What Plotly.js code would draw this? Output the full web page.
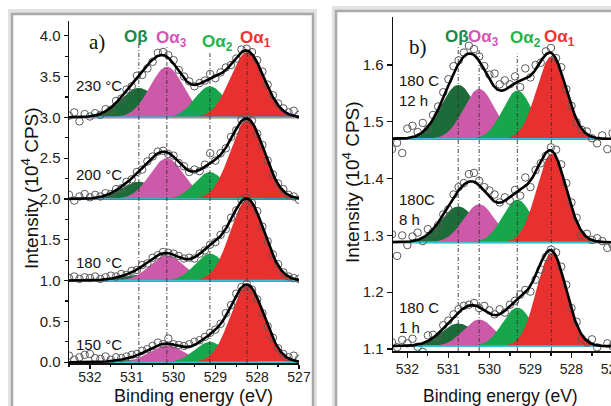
<!DOCTYPE html>
<html><head><meta charset="utf-8">
<script src="https://cdn.plot.ly/plotly-3.0.1.min.js"></script>
<style>html,body{margin:0;padding:0;overflow:hidden;background:#fff}#chart{width:630px;height:406px}</style>
</head><body><div id="chart"></div>
<script>
// ---------------- data ----------------
const energy = [532.5, 532.375, 532.25, 532.125, 532.0, 531.875, 531.75, 531.625, 531.5, 531.375, 531.25, 531.125, 531.0, 530.875, 530.75, 530.625, 530.5, 530.375, 530.25, 530.125, 530.0, 529.875, 529.75, 529.625, 529.5, 529.375, 529.25, 529.125, 529.0, 528.875, 528.75, 528.625, 528.5, 528.375, 528.25, 528.125, 528.0, 527.875, 527.75, 527.625, 527.5, 527.375, 527.25, 527.125, 527.0];

// panel a) measured points (10^4 CPS, stacked)
const pts230 = [3.02, 3.06, 2.95, 3.04, 3.01, 3.05, 3.03, 3.10, 3.09, 3.20, 3.23, 3.34, 3.38, 3.51, 3.52, 3.60, 3.68, 3.79, 3.80, 3.76, 3.70, 3.58, 3.50, 3.44, 3.38, 3.42, 3.45, 3.53, 3.48, 3.55, 3.61, 3.64, 3.72, 3.83, 3.84, 3.80, 3.70, 3.56, 3.40, 3.27, 3.17, 3.11, 3.06, 3.08, 3.03];
const pts200 = [2.05, 1.98, 2.03, 2.06, 2.02, 2.05, 2.03, 2.07, 2.06, 2.12, 2.13, 2.21, 2.24, 2.33, 2.36, 2.46, 2.52, 2.58, 2.59, 2.55, 2.53, 2.44, 2.40, 2.33, 2.36, 2.34, 2.42, 2.56, 2.47, 2.56, 2.62, 2.76, 2.84, 2.97, 3.00, 2.96, 2.80, 2.66, 2.47, 2.30, 2.19, 2.12, 2.05, 2.03, 1.99];
const pts180 = [1.03, 1.05, 1.02, 1.04, 1.03, 1.05, 1.02, 1.04, 1.06, 1.05, 1.08, 1.07, 1.12, 1.13, 1.19, 1.21, 1.28, 1.31, 1.35, 1.34, 1.33, 1.30, 1.27, 1.28, 1.27, 1.33, 1.37, 1.44, 1.47, 1.56, 1.63, 1.77, 1.86, 1.99, 2.02, 1.95, 1.85, 1.66, 1.48, 1.32, 1.20, 1.10, 1.05, 1.03, 1.02];
const pts150 = [0.08, 0.03, 0.06, 0.09, 0.10, 0.05, 0.04, 0.07, 0.03, 0.06, 0.05, 0.07, 0.09, 0.10, 0.14, 0.16, 0.20, 0.24, 0.22, 0.29, 0.22, 0.21, 0.20, 0.22, 0.25, 0.27, 0.31, 0.36, 0.40, 0.47, 0.60, 0.70, 0.84, 0.92, 0.96, 0.89, 0.77, 0.60, 0.44, 0.30, 0.17, 0.10, 0.06, 0.08, 0.04];
const labelsA = ['230 °C', '200 °C', '180 °C', '150 °C'];
const baseA = [3.0, 2.0, 1.0, 0.0];
// fitted components: O-beta, O-alpha3, O-alpha2, O-alpha1
const peakNames = ['Oβ', 'Oα<sub>3</sub>', 'Oα<sub>2</sub>', 'Oα<sub>1</sub>'];
const centerA = [530.83, 530.16, 529.13, 528.24];
const fwhmA = [1.05, 0.95, 0.85, 0.95];
const hBetaA = [0.36, 0.21, 0.07, 0.04];
const hA3A = [0.62, 0.50, 0.31, 0.21];
const hA2A = [0.38, 0.33, 0.33, 0.25];
const hA1A = [0.80, 0.97, 0.99, 0.94];

// panel b)
const pts12h = [1.468, 1.452, 1.463, 1.445, 1.488, 1.493, 1.482, 1.498, 1.487, 1.512, 1.527, 1.552, 1.575, 1.598, 1.608, 1.622, 1.634, 1.628, 1.615, 1.598, 1.583, 1.585, 1.566, 1.573, 1.566, 1.580, 1.561, 1.594, 1.578, 1.600, 1.604, 1.624, 1.630, 1.612, 1.596, 1.557, 1.528, 1.499, 1.486, 1.483, 1.471, 1.462, 1.476, 1.452, 1.480];
const pts8h = [1.300, 1.302, 1.264, 1.300, 1.283, 1.298, 1.305, 1.290, 1.311, 1.306, 1.318, 1.337, 1.346, 1.372, 1.385, 1.392, 1.408, 1.410, 1.396, 1.385, 1.379, 1.372, 1.358, 1.367, 1.361, 1.380, 1.370, 1.402, 1.385, 1.415, 1.427, 1.440, 1.455, 1.451, 1.425, 1.392, 1.358, 1.331, 1.300, 1.303, 1.292, 1.295, 1.290, 1.278, 1.283];
const pts1h = [1.108, 1.112, 1.103, 1.116, 1.110, 1.118, 1.104, 1.095, 1.124, 1.125, 1.121, 1.142, 1.150, 1.161, 1.170, 1.176, 1.178, 1.181, 1.172, 1.176, 1.168, 1.161, 1.170, 1.164, 1.178, 1.185, 1.196, 1.204, 1.201, 1.222, 1.240, 1.262, 1.275, 1.270, 1.245, 1.213, 1.172, 1.148, 1.118, 1.111, 1.117, 1.103, 1.089, 1.110, 1.105];
const labelsB = ['180 C<br>12 h', '180C<br>8 h', '180 C<br>1 h'];
const baseB = [1.47, 1.288, 1.105];
const centerB = [530.76, 530.25, 529.32, 528.49];
const fwhmB = [1.0, 0.9, 0.85, 0.85];
const hBetaB = [0.095, 0.063, 0.040];
const hA3B = [0.088, 0.067, 0.047];
const hA2B = [0.085, 0.075, 0.068];
const hA1B = [0.145, 0.156, 0.164];

// ---------------- drawing ----------------
const W = 630, H = 406;
const px = x => x / W, py = y => 1 - y / H;
const FONT = 'Liberation Sans, Arial, sans-serif';
const fillCols = ['#1e6b3a', '#cd59a9', '#17a64b', '#e8302f'];
const labelCols = ['#178a48', '#d955b5', '#25b34b', '#ee3333'];
const lineShape = (e, c, w) => Math.pow(2, -Math.pow(2 * (e - c) / w, 2));
const fineE = [];
for (let i = 0; i <= 550; i++) fineE.push(+(532.5 - i * 0.01).toFixed(3));

const traces = [];
function panel(xa, ya, pts, bases, centers, fwhm, hs, guideBottom, guideTops) {
  const fits = [];
  bases.forEach((b, i) => {
    for (let j = 0; j < 4; j++) {
      traces.push({x: fineE, y: fineE.map(e => b + hs[j][i] * lineShape(e, centers[j], fwhm[j])),
        xaxis: xa, yaxis: ya, mode: 'lines', fill: 'toself', fillcolor: fillCols[j],
        line: {width: 0, color: fillCols[j]}, hoverinfo: 'skip'});
    }
    traces.push({x: [fineE[0], fineE[fineE.length - 1]], y: [b, b], xaxis: xa, yaxis: ya, mode: 'lines',
      line: {color: '#3dbbe0', width: 1.6}, hoverinfo: 'skip'});
    fits.push(fineE.map(e => b + hs.reduce((s, h, j) => s + h[i] * lineShape(e, centers[j], fwhm[j]), 0)));
  });
  centers.forEach((c, j) => traces.push({x: [c, c], y: [guideBottom, guideTops[j]], xaxis: xa, yaxis: ya,
    mode: 'lines', line: {color: '#333', width: 0.9, dash: '4px,2px,1px,2px'}, hoverinfo: 'skip'}));
  pts.forEach(p => traces.push({x: energy, y: p, xaxis: xa, yaxis: ya, mode: 'markers',
    marker: {symbol: 'circle-open', size: 7.5, color: '#5a5a5a', line: {width: 1, color: '#5a5a5a'}}}));
  fits.forEach(f => traces.push({x: fineE, y: f, xaxis: xa, yaxis: ya, mode: 'lines',
    line: {color: '#000', width: 2.6}}));
}
panel('x', 'y', [pts230, pts200, pts180, pts150], baseA, centerA, fwhmA,
  [hBetaA, hA3A, hA2A, hA1A], -0.01, [3.92, 3.86, 3.80, 3.82]);
panel('x2', 'y2', [pts12h, pts8h, pts1h], baseB, centerB, fwhmB,
  [hBetaB, hA3B, hA2B, hA1B], 1.0965, [1.635, 1.63, 1.62, 1.617]);

const ax = {showgrid: false, zeroline: false, showline: true, linecolor: '#111', linewidth: 1.5,
  tickcolor: '#111', tickwidth: 1.2, tickfont: {family: FONT, size: 15, color: '#222'}, fixedrange: true};
const xtf = {family: FONT, size: 14, color: '#222'};
const rangeAx = [532.5, 527], rangeAy = [-0.01, 4.18];
const rangeBx = [532.35, 527], rangeBy = [1.0965, 1.6845];
const layout = {
  width: W, height: H, margin: {l: 0, r: 0, t: 0, b: 0}, showlegend: false,
  paper_bgcolor: '#fff', plot_bgcolor: 'rgba(0,0,0,0)',
  xaxis: {...ax, tickfont: xtf, domain: [px(69), px(299)], range: rangeAx, anchor: 'y', dtick: 1, tick0: 527,
    ticks: 'outside', ticklen: 4, ticklabelstandoff: -3,
    minor: {dtick: 0.5, tick0: 527, ticks: 'outside', ticklen: 2.5, tickcolor: '#111'}},
  yaxis: {...ax, domain: [py(363), py(21)], range: rangeAy, anchor: 'x', dtick: 0.5, tick0: 0, tickformat: '.1f',
    ticks: 'outside', ticklen: 4, minor: {dtick: 0.25, tick0: 0, ticks: 'outside', ticklen: 2.5, tickcolor: '#111'}},
  xaxis3: {...ax, overlaying: 'x', side: 'top', anchor: 'y', range: rangeAx, dtick: 1, tick0: 527,
    ticks: 'inside', ticklen: 5, showticklabels: false, minor: {dtick: 0.5, tick0: 527, ticks: 'inside', ticklen: 3, tickcolor: '#111'}},
  yaxis3: {...ax, overlaying: 'y', side: 'right', anchor: 'x', range: rangeAy, dtick: 0.5, tick0: 0,
    ticks: 'inside', ticklen: 5, showticklabels: false, minor: {dtick: 0.25, tick0: 0, ticks: 'inside', ticklen: 3, tickcolor: '#111'}},
  xaxis2: {...ax, tickfont: xtf, domain: [px(393), px(612.5)], range: rangeBx, anchor: 'y2', dtick: 1, tick0: 527,
    ticks: 'outside', ticklen: 5, minor: {dtick: 0.5, tick0: 527, ticks: 'outside', ticklen: 3, tickcolor: '#111'}},
  yaxis2: {...ax, domain: [py(351), py(17)], range: rangeBy, anchor: 'x2', dtick: 0.1, tick0: 1.1, tickformat: '.1f',
    ticks: 'outside', ticklen: 5},
  xaxis4: {...ax, overlaying: 'x2', side: 'top', anchor: 'y2', range: rangeBx, dtick: 1, tick0: 527,
    ticks: 'inside', ticklen: 5, showticklabels: false, minor: {dtick: 0.5, tick0: 527, ticks: 'inside', ticklen: 3, tickcolor: '#111'}},
  yaxis4: {...ax, overlaying: 'y2', side: 'right', anchor: 'x2', range: rangeBy, dtick: 0.1, tick0: 1.1,
    ticks: 'inside', ticklen: 5, showticklabels: false},
  shapes: [], annotations: []
};

// panel frames (gray borders)
[[12, 14, 313], [336, 11, 700]].forEach(([l, t, r]) => {
  layout.shapes.push({type: 'rect', xref: 'paper', yref: 'paper', x0: px(l - 2), x1: px(r + 2), y0: py(430), y1: py(t - 3),
    line: {color: '#e2e2e2', width: 4}, layer: 'below'});
  layout.shapes.push({type: 'rect', xref: 'paper', yref: 'paper', x0: px(l), x1: px(r), y0: py(430), y1: py(t),
    line: {color: '#a9a9a9', width: 2.5}, layer: 'below'});
});
// black separator lines between stacked spectra
baseA.slice(0, 3).forEach(b => layout.shapes.push({type: 'line', xref: 'x domain', yref: 'y', x0: 0, x1: 1, y0: b, y1: b,
  line: {color: '#111', width: 2}, layer: 'below'}));
baseB.slice(0, 2).forEach(b => layout.shapes.push({type: 'line', xref: 'x2 domain', yref: 'y2', x0: 0, x1: 1, y0: b, y1: b,
  line: {color: '#111', width: 2}, layer: 'below'}));

const ann = (x, y, text, opts = {}) => layout.annotations.push(Object.assign({xref: 'paper', yref: 'paper',
  x: px(x), y: py(y), text, showarrow: false, xanchor: 'center', yanchor: 'middle',
  font: {family: FONT, size: 15, color: '#111'}}, opts));

// peak labels
[[136, 37], [172, 39], [217, 43], [255, 39]].forEach(([x, y], j) =>
  ann(x, y, '<b>' + peakNames[j] + '</b>', {font: {family: FONT, size: 17, color: labelCols[j]}}));
[[457, 36], [483, 38], [525, 39], [559, 38]].forEach(([x, y], j) =>
  ann(x, y, '<b>' + peakNames[j] + '</b>', {font: {family: FONT, size: 17, color: labelCols[j]}}));
// panel letters
ann(97, 42, 'a)', {font: {family: 'Liberation Serif, Times New Roman, serif', size: 21, color: '#111'}});
ann(418, 47, 'b)', {font: {family: 'Liberation Serif, Times New Roman, serif', size: 21, color: '#111'}});
// spectrum labels
[85, 174, 262, 344].forEach((y, i) => ann(74, y, labelsA[i], {xanchor: 'left'}));
[90, 209, 317].forEach((y, i) => ann(397, y, labelsB[i], {xanchor: 'left', align: 'left'}));
// axis titles
ann(30, 188, 'Intensity (10<sup>4</sup> CPS)', {textangle: -90, font: {family: FONT, size: 19, color: '#111'}});
ann(351, 182, 'Intensity (10<sup>4</sup> CPS)', {textangle: -90, font: {family: FONT, size: 19, color: '#111'}});
ann(193, 396, 'Binding energy (eV)', {font: {family: FONT, size: 18, color: '#111'}});
ann(500, 396, 'Binding energy (eV)', {font: {family: FONT, size: 17.5, color: '#111'}});

Plotly.newPlot('chart', traces, layout, {staticPlot: true, displayModeBar: false});
</script>
</body></html>
